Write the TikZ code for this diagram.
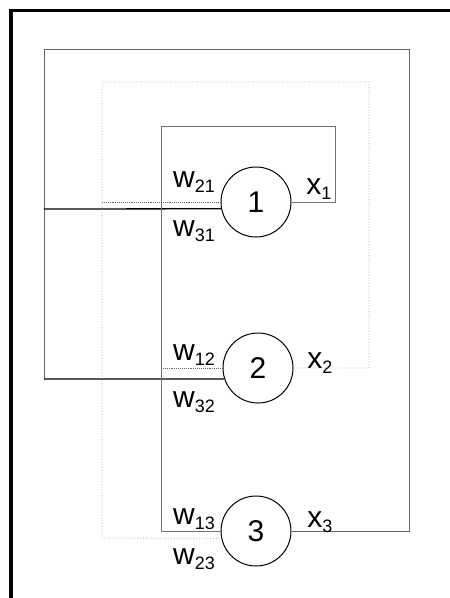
\documentclass[tikz,border=0pt]{standalone}
\usepackage{fontspec}
\setmainfont{Liberation Sans}
\newcommand{\wlab}[2]{#1\raisebox{-4.5pt}{\fontsize{18}{18}\selectfont #2}}
\begin{document}
\begin{tikzpicture}[x=1pt,y=-1pt,
 neuron/.style={circle,draw=black,line width=1pt,minimum size=70pt,inner sep=0pt,font=\fontsize{30}{30}\selectfont},
 lbl/.style={font=\fontsize{30}{30}\selectfont,inner sep=0pt},
 loopA/.style={draw=black!60,line width=1pt},
 loopB/.style={draw=black!55,line width=0.9pt},
 loopC/.style={draw=black!35,line width=0.8pt,dotted},
 branchB/.style={draw=black!60,line width=0.9pt,densely dotted},
 strong/.style={draw=black,line width=1.3pt}]
\useasboundingbox (0,0) rectangle (450,598);
\fill[black] (9,9) rectangle (450,12);
\fill[black] (9,9) rectangle (13,598);
\node[neuron] (n1) at (256,202) {1};
\node[neuron] (n2) at (258,368) {2};
\node[neuron] (n3) at (256,531) {3};
% outer loop (x3)
\coordinate (a1) at (409,531);
\coordinate (a2) at (409,49);
\coordinate (a3) at (44,49);
\coordinate (a4) at (44,379);
\coordinate (a5) at (44,209);
\draw[loopA] (n3.east) -- (a1) -- (a2) -- (a3) -- (a4);
\draw[strong] (a4) -- (n2.198);
\draw[strong] (a5) -- (n1.191);
% inner loop (x1)
\coordinate (b1) at (335,202);
\coordinate (b2) at (335,126);
\coordinate (b3) at (161,126);
\coordinate (b4) at (161,531);
\coordinate (b5) at (161,368);
\draw[loopB] (n1.east) -- (b1) -- (b2) -- (b3) -- (b4) -- (n3.west);
\draw[branchB] (b5) -- (n2.west);
% middle loop (x2)
\coordinate (c1) at (369,368);
\coordinate (c2) at (369,82);
\coordinate (c3) at (102,82);
\coordinate (c4) at (102,538);
\coordinate (c5) at (102,202);
\draw[loopC] (n2.east) -- (c1) -- (c2) -- (c3) -- (c4) -- (n3.192);
\draw[branchB] (c5) -- (n1.west);
% labels
\node[lbl] (l21) at (194,182) {\wlab{w}{21}};
\node[lbl] (l31) at (194,231) {\wlab{w}{31}};
\node[lbl] (x1) at (319,189) {\wlab{x}{1}};
\node[lbl] (l12) at (194,355) {\wlab{w}{12}};
\node[lbl] (l32) at (194,402) {\wlab{w}{32}};
\node[lbl] (x2) at (320,363) {\wlab{x}{2}};
\node[lbl] (l13) at (194,519) {\wlab{w}{13}};
\node[lbl] (l23) at (194,559) {\wlab{w}{23}};
\node[lbl] (x3) at (320,522) {\wlab{x}{3}};
\end{tikzpicture}
\end{document}
